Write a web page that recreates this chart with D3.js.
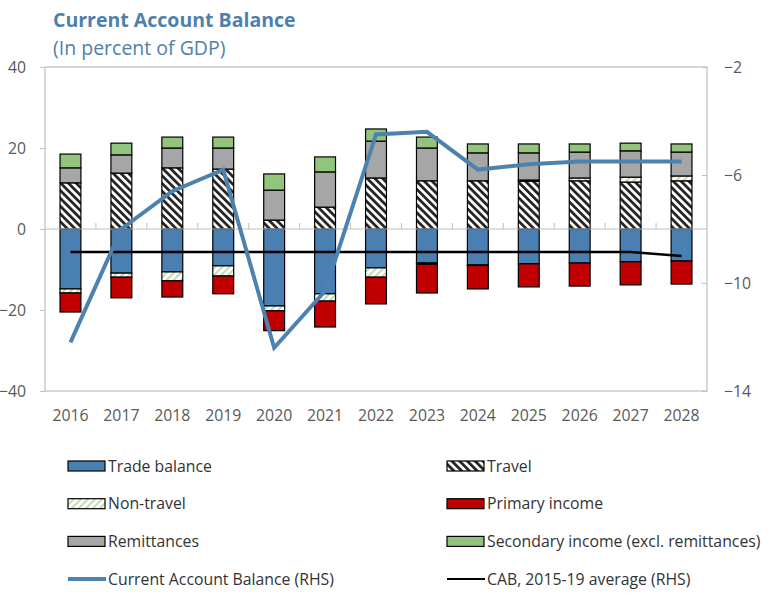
<!DOCTYPE html>
<html>
<head>
<meta charset="utf-8">
<script src="https://cdn.jsdelivr.net/npm/d3@7"></script>
<style>
  body { margin: 0; background: #fff; }
  svg { display: block; font-family: "Open Sans", sans-serif; }
  .tick-label { fill: #595959; font-size: 15.8px; }
  .legend-text { fill: #333; font-size: 15.8px; }
</style>
</head>
<body>
<svg width="770" height="602"></svg>
<script>
// data
const years = ["2016","2017","2018","2019","2020","2021","2022","2023","2024","2025","2026","2027","2028"]
const tradeBalance = [-14.8, -10.9, -10.6, -9.1, -19.0, -16.0, -9.6, -8.4, -8.9, -8.6, -8.4, -8.1, -7.9]
const travel = [11.4, 13.8, 15.1, 14.8, 2.2, 5.4, 12.6, 11.9, 11.9, 11.8, 11.9, 11.6, 11.9]
const nonTravel = [-1.0, -1.0, -2.2, -2.5, -1.2, -1.8, -2.3, -0.3, -0.1, 0.3, 0.7, 1.2, 1.2]
const primaryIncome = [-4.7, -5.1, -4.0, -4.4, -4.9, -6.4, -6.6, -7.1, -5.8, -5.7, -5.7, -5.7, -5.7]
const remittances = [3.7, 4.5, 4.9, 5.2, 7.4, 8.7, 9.1, 8.1, 6.9, 6.7, 6.4, 6.5, 5.9]
const secondaryIncome = [3.4, 2.9, 2.7, 2.7, 4.0, 3.7, 3.0, 2.7, 2.2, 2.2, 2.0, 1.9, 2.0]
const cab = [-12.2, -8.0, -6.6, -5.8, -12.4, -10.3, -4.5, -4.4, -5.8, -5.6, -5.5, -5.5, -5.5]
const cabAverage = [-8.85, -8.85, -8.85, -8.85, -8.85, -8.85, -8.85, -8.85, -8.85, -8.85, -8.85, -8.85, -9.0]
const leftTicks = [-40, -20, 0, 20, 40]
const rightTicks = [-14, -10, -6, -2]

const keys = ["trade", "travel", "nontravel", "primary", "remit", "secondary"]
const table = years.map((yr, i) => ({
    year: yr,
    trade: tradeBalance[i],
    travel: travel[i],
    nontravel: nonTravel[i],
    primary: primaryIncome[i],
    remit: remittances[i],
    secondary: secondaryIncome[i]
}))

const svg = d3.select("svg")
const defs = svg.append("defs")

const travelPat = defs.append("pattern")
    .attr("id", "travelPat")
    .attr("width", 5.5).attr("height", 5.5)
    .attr("patternUnits", "userSpaceOnUse")
    .attr("patternTransform", "rotate(-45)")
travelPat.append("rect").attr("width", 5.5).attr("height", 5.5).attr("fill", "#fff")
travelPat.append("rect").attr("width", 2.8).attr("height", 5.5).attr("fill", "#262626")

const nonTravelPat = defs.append("pattern")
    .attr("id", "nonTravelPat")
    .attr("width", 5).attr("height", 5)
    .attr("patternUnits", "userSpaceOnUse")
    .attr("patternTransform", "rotate(45)")
nonTravelPat.append("rect").attr("width", 5).attr("height", 5).attr("fill", "#fff")
nonTravelPat.append("rect").attr("width", 1.6).attr("height", 5).attr("fill", "#b5d39c")

const fills = {
    trade: "#4a7fb2",
    travel: "url(#travelPat)",
    nontravel: "url(#nonTravelPat)",
    primary: "#c00000",
    remit: "#a6a6a6",
    secondary: "#93c47d"
}

const plotLeft = 45, plotRight = 707, plotTop = 67, plotBottom = 391

const x = d3.scaleBand()
    .domain(years)
    .range([plotLeft, plotRight])
    .paddingInner(0.59)
    .paddingOuter(0.295)

const y = d3.scaleLinear()
    .domain([-40, 40])
    .range([plotBottom, plotTop])

const y2 = d3.scaleLinear()
    .domain([-14, -2])
    .range([plotBottom, plotTop])

const band = d3.scaleBand().domain(years).range([plotLeft, plotRight])

// frame
svg.append("rect")
    .attr("x", plotLeft).attr("y", plotTop)
    .attr("width", plotRight - plotLeft).attr("height", plotBottom - plotTop)
    .attr("fill", "none")
    .attr("stroke", "#bfbfbf")
    .attr("stroke-width", 1.2)

// left axis
const leftAxis = svg.append("g")
    .attr("transform", `translate(${plotLeft},0)`)
    .call(d3.axisLeft(y).tickValues(leftTicks).tickSize(5).tickPadding(14).tickFormat(d3.format("d")))
leftAxis.select(".domain").remove()
leftAxis.selectAll("line").attr("stroke", "#bfbfbf")
leftAxis.selectAll("text").attr("class", "tick-label").attr("fill", null)
leftAxis.attr("font-family", null).attr("font-size", null)

// right axis
const rightAxis = svg.append("g")
    .attr("transform", `translate(${plotRight},0)`)
    .call(d3.axisRight(y2).tickValues(rightTicks).tickSize(-5).tickPadding(17).tickFormat(d3.format("d")))
rightAxis.select(".domain").remove()
rightAxis.selectAll("line").attr("stroke", "#bfbfbf")
rightAxis.selectAll("text").attr("class", "tick-label").attr("fill", null)
rightAxis.attr("font-family", null).attr("font-size", null)

// category labels
svg.append("g")
    .selectAll("text")
    .data(years)
    .join("text")
    .attr("class", "tick-label")
    .attr("x", d => band(d) + band.bandwidth() / 2)
    .attr("y", 421)
    .attr("text-anchor", "middle")
    .text(d => d)

// stacked bars
const series = d3.stack()
    .keys(keys)
    .offset(d3.stackOffsetDiverging)(table)

svg.append("g")
    .selectAll("g")
    .data(series)
    .join("g")
    .attr("fill", d => fills[d.key])
    .selectAll("rect")
    .data(d => d.filter(p => p[1] !== p[0]))
    .join("rect")
    .attr("x", d => x(d.data.year))
    .attr("width", x.bandwidth())
    .attr("y", d => y(Math.max(d[0], d[1])))
    .attr("height", d => Math.abs(y(d[0]) - y(d[1])))
    .attr("stroke", "#000")
    .attr("stroke-width", 1.2)

// zero line with category ticks
svg.append("line")
    .attr("x1", plotLeft).attr("x2", plotRight)
    .attr("y1", y(0)).attr("y2", y(0))
    .attr("stroke", "#bfbfbf").attr("stroke-width", 1.2)

svg.append("g")
    .selectAll("line")
    .data(years.slice(1))
    .join("line")
    .attr("x1", d => band(d)).attr("x2", d => band(d))
    .attr("y1", y(0)).attr("y2", y(0) - 6)
    .attr("stroke", "#bfbfbf")

// lines on right axis
const lineGen = d3.line()
    .x((d, i) => band(years[i]) + band.bandwidth() / 2)
    .y(d => y2(d))

svg.append("path")
    .datum(cabAverage)
    .attr("d", lineGen)
    .attr("fill", "none")
    .attr("stroke", "#000")
    .attr("stroke-width", 2.5)

svg.append("path")
    .datum(cab)
    .attr("d", lineGen)
    .attr("fill", "none")
    .attr("stroke", "#4e82ae")
    .attr("stroke-width", 4)
    .attr("stroke-linejoin", "miter")

// title
svg.append("text")
    .attr("x", 53).attr("y", 27)
    .attr("fill", "#4e80ad")
    .attr("font-size", "19.5px")
    .attr("font-weight", "bold")
    .text("Current Account Balance")

svg.append("text")
    .attr("x", 53).attr("y", 55)
    .attr("fill", "#4e80ad")
    .attr("font-size", "19.5px")
    .text("(In percent of GDP)")

// legend
const legendItems = [
    { label: "Trade balance", type: "rect", fill: fills.trade },
    { label: "Travel", type: "rect", fill: fills.travel },
    { label: "Non-travel", type: "rect", fill: fills.nontravel },
    { label: "Primary income", type: "rect", fill: fills.primary },
    { label: "Remittances", type: "rect", fill: fills.remit },
    { label: "Secondary income (excl. remittances)", type: "rect", fill: fills.secondary },
    { label: "Current Account Balance (RHS)", type: "line", color: "#4e82ae", width: 4 },
    { label: "CAB, 2015-19 average (RHS)", type: "line", color: "#000", width: 2 }
]

const legend = svg.append("g")
    .selectAll("g")
    .data(legendItems)
    .join("g")
    .attr("transform", (d, i) => `translate(${i % 2 === 0 ? 68 : 447}, ${466 + Math.floor(i / 2) * 37.7})`)

legend.filter(d => d.type === "rect")
    .append("rect")
    .attr("x", 0).attr("y", -5)
    .attr("width", 37).attr("height", 10)
    .attr("fill", d => d.fill)
    .attr("stroke", "#000")
    .attr("stroke-width", 1.2)

legend.filter(d => d.type === "line")
    .append("line")
    .attr("x1", 0).attr("x2", 38)
    .attr("y1", 0).attr("y2", 0)
    .attr("stroke", d => d.color)
    .attr("stroke-width", d => d.width)

legend.append("text")
    .attr("class", "legend-text")
    .attr("x", 40)
    .attr("y", 0)
    .attr("dy", "0.35em")
    .text(d => d.label)
</script>
</body>
</html>
